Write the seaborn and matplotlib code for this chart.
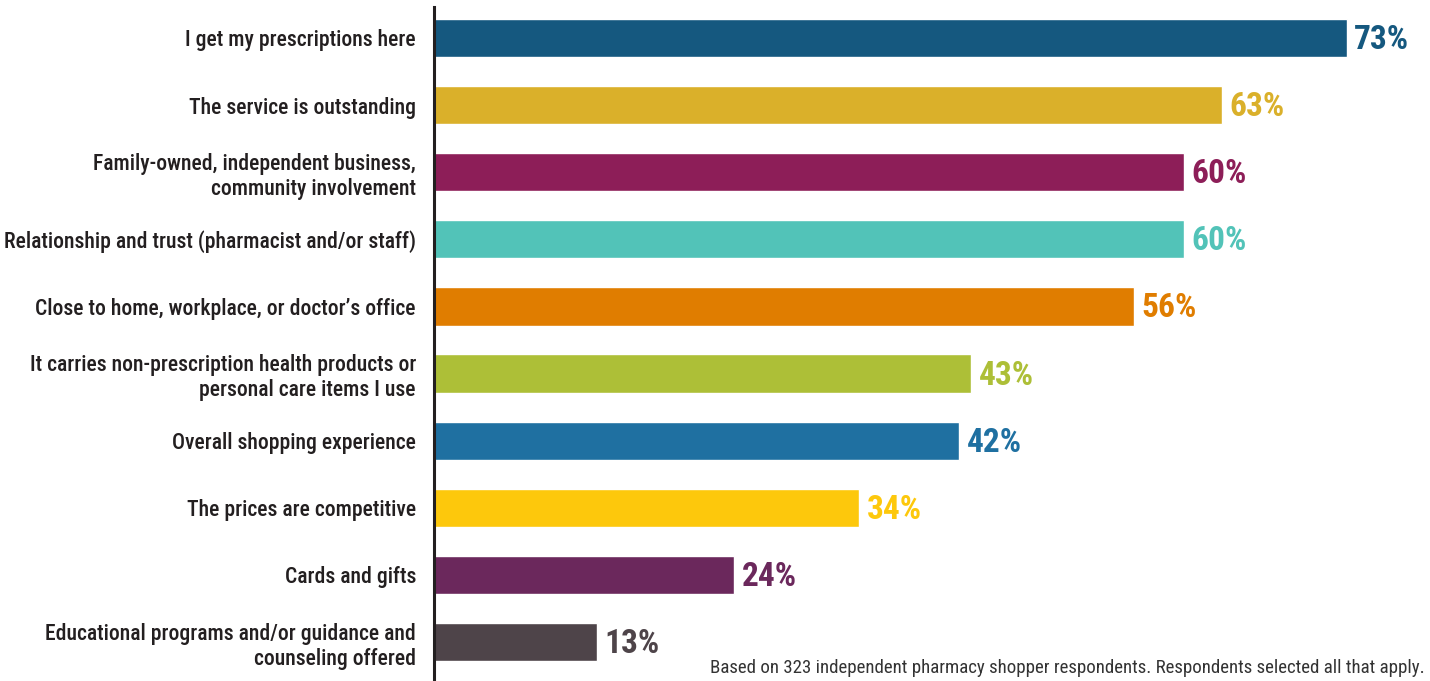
import matplotlib
matplotlib.use("Agg")
import matplotlib.pyplot as plt
from matplotlib import font_manager
import seaborn as sns
import pandas as pd

categories = [
    "I get my prescriptions here",
    "The service is outstanding",
    "Family-owned, independent business,\ncommunity involvement",
    "Relationship and trust (pharmacist and/or staff)",
    "Close to home, workplace, or doctor\u2019s office",
    "It carries non-prescription health products or\npersonal care items I use",
    "Overall shopping experience",
    "The prices are competitive",
    "Cards and gifts",
    "Educational programs and/or guidance and\ncounseling offered",
]
values = [73, 63, 60, 60, 56, 43, 42, 34, 24, 13]
colors = ["#15587f", "#dab02a", "#8d1e58", "#52c3b8", "#e07d00",
          "#adbf37", "#1f70a1", "#fdc80c", "#6b285c", "#4e4449"]
footnote = "Based on 323 independent pharmacy shopper respondents. Respondents selected all that apply."

sns.set_theme(style="white")

# Prefer a narrow sans face when one is installed
installed = {f.name for f in font_manager.fontManager.ttflist}
narrow = [n for n in ["Liberation Sans Narrow", "Roboto Condensed",
                      "Open Sans Condensed", "Noto Sans Condensed",
                      "DejaVu Sans Condensed"] if n in installed]
family = narrow[0] if narrow else "Roboto"
plt.rcParams["font.family"] = [family, "DejaVu Sans"]

df = pd.DataFrame({"reason": categories, "pct": values})

fig = plt.figure(figsize=(14.30, 6.81), dpi=100)
ax = fig.add_axes([434 / 1430, 2 / 681, 996 / 1430, 672 / 681])

sns.barplot(data=df, y="reason", x="pct", hue="reason", palette=colors,
            order=categories, hue_order=categories, legend=False,
            width=0.57, orient="h", ax=ax, saturation=1)

ax.set_xlim(0, 996 / 12.5)
ax.set_ylim(9.55, -0.46)
ax.set_xlabel("")
ax.set_ylabel("")
ax.set_xticks([])
for side in ["top", "right", "bottom"]:
    ax.spines[side].set_visible(False)
ax.spines["left"].set_color("#231f20")
ax.spines["left"].set_linewidth(2.2)
ax.tick_params(axis="y", length=0, pad=13)

renderer = fig.canvas.get_renderer()


def fit_size(text, width_px, weight="normal", start=20):
    t = fig.text(0, 0, text, fontsize=start, fontweight=weight)
    w = t.get_window_extent(renderer).width
    t.remove()
    return start * width_px / w


label_size = min(19, fit_size("Relationship and trust (pharmacist and/or staff)",
                              412, weight="medium"))
value_size = min(24, fit_size("73%", 56, weight="bold"))
note_size = min(14, fit_size(footnote, 714))

for lab in ax.get_yticklabels():
    lab.set_fontsize(label_size)
    lab.set_fontweight("medium")
    lab.set_color("#231f20")
    lab.set_linespacing(1.2)

for i, (v, c) in enumerate(zip(values, colors)):
    ax.text(v + 0.6, i + 0.03, f"{v}%", va="center", ha="left", color=c,
            fontsize=value_size, fontweight="bold")

fig.text(710 / 1430, 1 - 668 / 681, footnote, ha="left", va="center",
         fontsize=note_size, color="#333333")

fig.savefig("out.png", dpi=100)
